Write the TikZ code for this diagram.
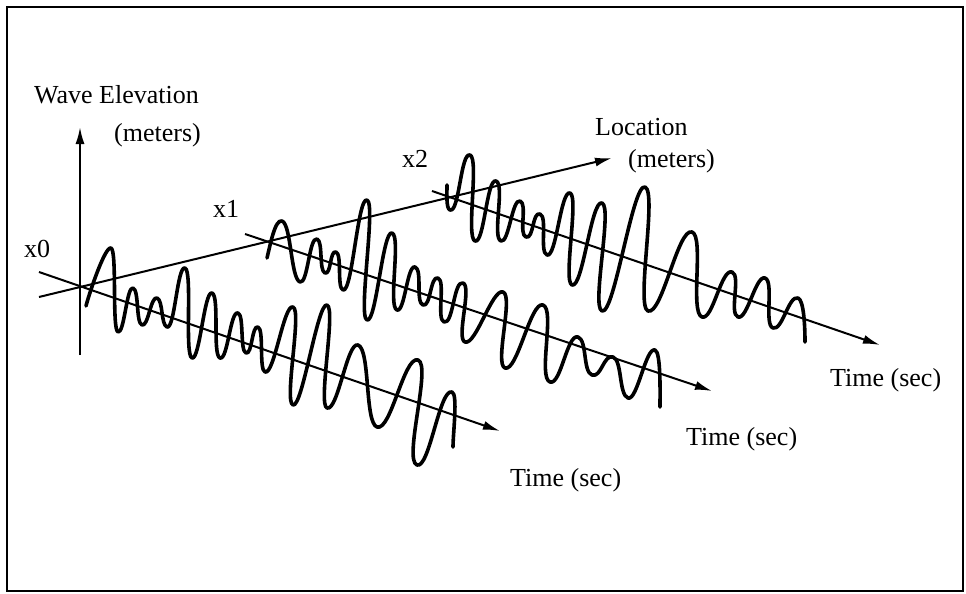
\documentclass[tikz,border=0pt]{standalone}
\usepackage{fontspec}
\setmainfont{Liberation Serif}
\usetikzlibrary{arrows.meta}
\tikzset{
  axisarrow/.style={line width=2pt, -{Latex[length=17pt,width=9pt]}},
  wave/.style={line width=3.6pt, line join=round, line cap=round},
  lbl/.style={inner sep=0pt, anchor=base west, font=\fontsize{26}{30}\selectfont},
  frame/.style={line width=1.6pt},
}
\def\hf{1.55}
\begin{document}
\begin{tikzpicture}[x=1pt,y=-1pt]
\useasboundingbox (0,0) rectangle (966,594);
\draw[frame] (7,7) rectangle (963,591);

% axes
\coordinate (elevS) at (80,355);
\coordinate (elevE) at (80,127);
\coordinate (locS) at (39,297);
\coordinate (locE) at (612,158);
\coordinate (tzS) at (39,272);
\coordinate (tzE) at (500,431);
\coordinate (toS) at (245,234);
\coordinate (toE) at (712,391);
\coordinate (ttS) at (432,191);
\coordinate (ttE) at (880,345);

\draw[axisarrow] (elevS) -- (elevE);
\draw[axisarrow] (locS) -- (locE);
\draw[axisarrow] (tzS) -- (tzE);
\draw[axisarrow] (toS) -- (toE);
\draw[axisarrow] (ttS) -- (ttE);

% wave at x0
\draw[wave] (86,306) .. controls +(3,-12) and +(-6,-2) .. (111,248)
  foreach \x/\y/\h in {118/332/4, 133/288/4, 142/325/4, 157/298/4, 167/327/4,
    185/268/5, 192/358/5, 212/293/5, 220/358/5, 238/313/5, 246/353/4,
    258/327/4, 265/372/4, 293/307/6, 293/405/6, 327/305/6, 327/408/6,
    358/345/7, 377/427/8, 418/360/9, 417/465/9, 452/392/8}
  { .. controls +({\hf*\h},{0.34*\hf*\h}) and +({-\hf*\h},{-0.34*\hf*\h}) .. (\x,\y) }
  .. controls +(6,2) and +(0,-14) .. (453,447);

% wave at x1
\draw[wave] (267,258) .. controls +(3,-12) and +(-7,-2.4) .. (282,221)
  foreach \x/\y/\h in {300/282/6, 317/239/5, 325/273/4, 336/252/4, 343/290/4,
    367/200/6, 367/320/6, 392/233/6, 397/310/6, 415/267/5, 423/305/5,
    438/278/5, 444/322/5, 463/283/6, 465/342/6, 503/292/7, 505/368/7,
    543/305/8, 550/382/8, 578/337/7, 592/375/6, 613/357/6, 628/398/6,
    655/350/6}
  { .. controls +({\hf*\h},{0.34*\hf*\h}) and +({-\hf*\h},{-0.34*\hf*\h}) .. (\x,\y) }
  .. controls +(6,2) and +(0,-14) .. (660,407);

% wave at x2
\draw[wave] (447,185) .. controls +(0,9) and +(-4,-1.4) .. (450,210)
  foreach \x/\y/\h in {470/155/6, 475/241/6, 496/181/6, 501/241/6, 520/201/5,
    526/237/5, 540/214/5, 547/255/5, 570/193/6, 572/285/6, 602/203/7,
    602/311/7, 645/187/8, 648/311/8, 692/232/9, 702/317/8, 732/272/7,
    738/317/6, 765/278/6, 773/328/6, 798/298/6}
  { .. controls +({\hf*\h},{0.34*\hf*\h}) and +({-\hf*\h},{-0.34*\hf*\h}) .. (\x,\y) }
  .. controls +(6,2) and +(0,-14) .. (805,342);

% labels
\node[lbl] (welev) at (34,103) {Wave Elevation};
\node[lbl] (wmeters) at (114,141) {(meters)};
\node[lbl] (lx0) at (24,257) {x0};
\node[lbl] (lx1) at (213,217) {x1};
\node[lbl] (lx2) at (402,167) {x2};
\node[lbl] (lloc) at (595,135) {Location};
\node[lbl] (lmeters) at (628,167) {(meters)};
\node[lbl] (time2) at (830,386) {Time (sec)};
\node[lbl] (time1) at (686,445) {Time (sec)};
\node[lbl] (time0) at (510,486) {Time (sec)};
\end{tikzpicture}
\end{document}
